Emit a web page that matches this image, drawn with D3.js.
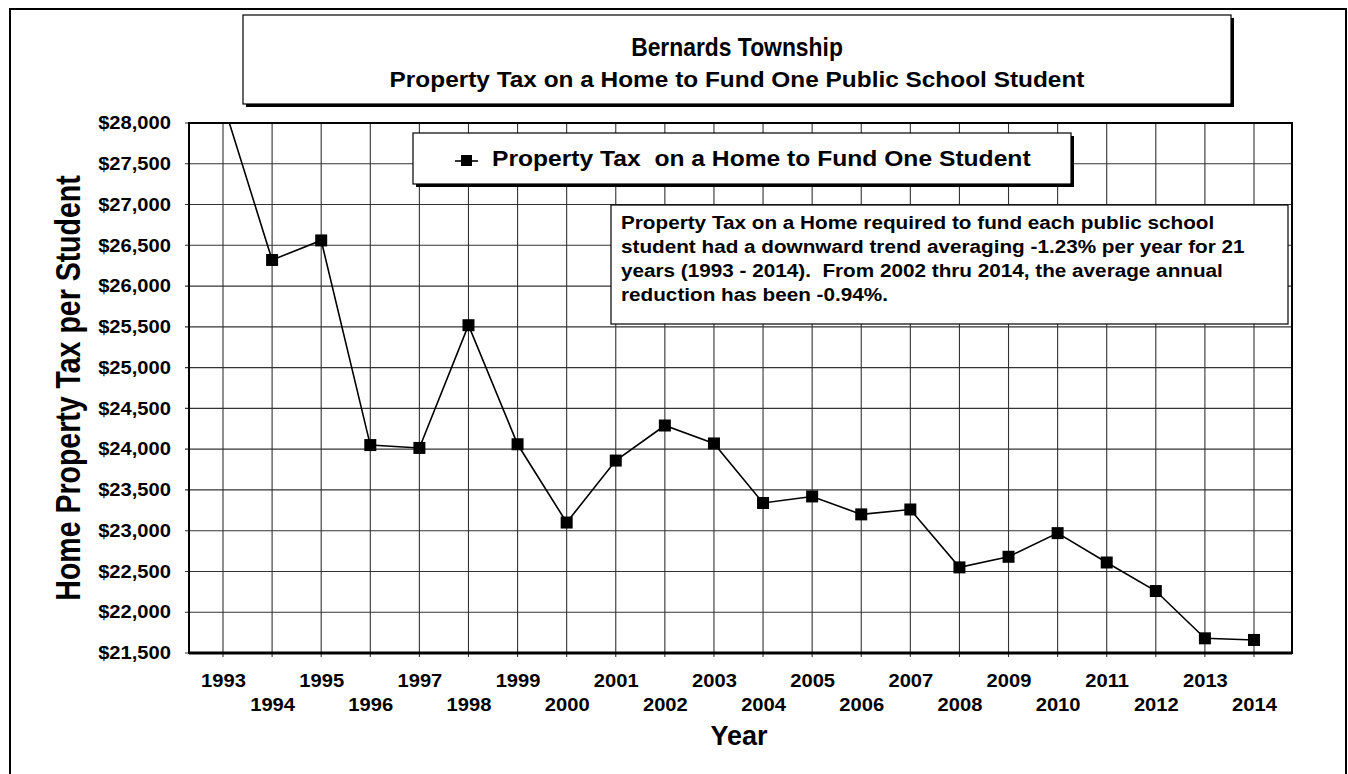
<!DOCTYPE html>
<html>
<head>
<meta charset="utf-8">
<script src="https://cdn.jsdelivr.net/npm/d3@7"></script>
<style>
  html, body { margin: 0; padding: 0; background: #fff; }
  svg { display: block; font-family: Arial, "Liberation Sans", sans-serif; }
</style>
</head>
<body>
<svg id="chart" width="1348" height="774"></svg>
<script>
// ---- data ----
const years = [1993, 1994, 1995, 1996, 1997, 1998, 1999, 2000, 2001, 2002, 2003,
               2004, 2005, 2006, 2007, 2008, 2009, 2010, 2011, 2012, 2013, 2014];
const taxPerStudent = [28250, 26320, 26560, 24050, 24015, 25520, 24060, 23100, 23860, 24290, 24070,
                       23340, 23420, 23200, 23260, 22550, 22680, 22970, 22610, 22260, 21680, 21660];
const yTicks = [21500, 22000, 22500, 23000, 23500, 24000, 24500, 25000, 25500, 26000, 26500, 27000, 27500, 28000];
const titleText = "Bernards Township";
const subtitleText = "Property Tax on a Home to Fund One Public School Student";
const legendText = "Property Tax\u00A0\u00A0on a Home to Fund One Student";
const noteLines = [
  "Property Tax on a Home required to fund each public school",
  "student had a downward trend averaging -1.23% per year for 21",
  "years (1993 - 2014).\u00A0\u00A0From 2002 thru 2014, the average annual",
  "reduction has been -0.94%."
];
const xTitle = "Year";
const yTitle = "Home Property Tax per Student";

// ---- layout ----
const SX = 1.12; // horizontal stretch of the scanned original
const plot = { left: 189, right: 1292, top: 123, bottom: 653 };
const svg = d3.select("#chart");

const x = d3.scaleLinear().domain([1993, 2014]).range([223, 1254]);
const y = d3.scaleLinear().domain([21500, 28000]).range([plot.bottom, plot.top]);
const fmt = v => "$" + d3.format(",")(v);

function stext(parent, px, py, str, size, anchor, weight, sx) {
  return parent.append("text")
    .attr("transform", `translate(${px},${py}) scale(${sx || SX},1)`)
    .attr("text-anchor", anchor)
    .attr("font-size", size)
    .attr("font-weight", weight)
    .attr("fill", "#000")
    .text(str);
}

// outer border
svg.append("rect").attr("x", 10).attr("y", 9).attr("width", 1336).attr("height", 800)
  .attr("fill", "none").attr("stroke", "#000").attr("stroke-width", 2);

function shadowBox(x0, y0, x1, y1, sw, shadow) {
  if (shadow) {
    svg.append("rect").attr("x", x0 + 3).attr("y", y0 + 3).attr("width", x1 - x0).attr("height", y1 - y0)
      .attr("fill", "#000");
  }
  svg.append("rect").attr("x", x0).attr("y", y0).attr("width", x1 - x0).attr("height", y1 - y0)
    .attr("fill", "#fff").attr("stroke", "#000").attr("stroke-width", sw);
}

// title box
shadowBox(243, 15, 1231, 104, 1.2, true);
stext(svg, 737, 56, titleText, 26, "middle", "bold", 0.88);
stext(svg, 737, 87, subtitleText, 21.8, "middle", "bold");

// gridlines
const grid = svg.append("g");
grid.selectAll("line.h").data(yTicks).join("line")
  .attr("x1", plot.left - 4).attr("x2", plot.right)
  .attr("y1", d => y(d)).attr("y2", d => y(d))
  .attr("stroke", "#333").attr("stroke-width", 1.1);
grid.selectAll("line.v").data(years).join("line")
  .attr("x1", d => x(d)).attr("x2", d => x(d))
  .attr("y1", plot.top).attr("y2", plot.bottom + 4)
  .attr("stroke", "#333").attr("stroke-width", 1.1);

// y axis labels
const yAxis = d3.axisLeft(y).tickValues(yTicks).tickFormat(fmt).tickSize(0).tickPadding(18);
const yg = svg.append("g").attr("transform", `translate(${plot.left},0)`).call(yAxis);
yg.select(".domain").remove();
yg.selectAll("text").attr("font-size", 18).attr("font-weight", "bold").attr("fill", "#000")
  .attr("font-family", "Arial, 'Liberation Sans', sans-serif")
  .attr("transform", `scale(${SX},1)`)
  .attr("x", -18 / SX);

// x axis labels (staggered)
const xAxis = d3.axisBottom(x).tickValues(years).tickFormat(d3.format("d")).tickSize(0);
const xg = svg.append("g").attr("transform", `translate(0,${plot.bottom})`).call(xAxis);
xg.select(".domain").remove();
xg.selectAll("text")
  .attr("font-size", 18).attr("font-weight", "bold").attr("fill", "#000")
  .attr("font-family", "Arial, 'Liberation Sans', sans-serif")
  .attr("dy", null)
  .attr("y", (d, i) => (i % 2 === 0 ? 34 : 58))
  .attr("transform", `scale(${SX},1)`);

// plot frame
svg.append("rect").attr("x", plot.left).attr("y", plot.top)
  .attr("width", plot.right - plot.left).attr("height", plot.bottom - plot.top)
  .attr("fill", "none").attr("stroke", "#000").attr("stroke-width", 2);
svg.append("line").attr("x1", plot.left).attr("x2", plot.right)
  .attr("y1", plot.bottom).attr("y2", plot.bottom).attr("stroke", "#000").attr("stroke-width", 3);

// clip + series
svg.append("clipPath").attr("id", "clip").append("rect")
  .attr("x", plot.left).attr("y", plot.top)
  .attr("width", plot.right - plot.left).attr("height", plot.bottom - plot.top);
const series = years.map((yr, i) => ({ yr, v: taxPerStudent[i] }));
const g = svg.append("g").attr("clip-path", "url(#clip)");
g.append("path").datum(series)
  .attr("d", d3.line().x(d => x(d.yr)).y(d => y(d.v)))
  .attr("fill", "none").attr("stroke", "#000").attr("stroke-width", 1.6);
const ms = 12;
g.selectAll("rect.m").data(series).join("rect")
  .attr("x", d => x(d.yr) - ms / 2).attr("y", d => y(d.v) - ms / 2)
  .attr("width", ms).attr("height", ms).attr("fill", "#000");

// legend box
shadowBox(413, 133, 1071, 184, 1.2, true);
svg.append("line").attr("x1", 455).attr("x2", 478).attr("y1", 161).attr("y2", 161)
  .attr("stroke", "#000").attr("stroke-width", 1.6);
svg.append("rect").attr("x", 461).attr("y", 155).attr("width", 11).attr("height", 11).attr("fill", "#000");
stext(svg, 492, 166, legendText, 22, "start", "bold");

// annotation box
svg.append("rect").attr("x", 611).attr("y", 205).attr("width", 677).attr("height", 119)
  .attr("fill", "#fff").attr("stroke", "#000").attr("stroke-width", 1.2);
noteLines.forEach((ln, i) => stext(svg, 621, 229 + i * 24, ln, 18.5, "start", "bold"));

// axis titles
stext(svg, 739, 745, xTitle, 27, "middle", "bold", 1.0);
svg.append("text")
  .attr("transform", `translate(80,388) scale(1.2,1) rotate(-90)`)
  .attr("text-anchor", "middle").attr("font-size", 28.5).attr("font-weight", "bold")
  .attr("fill", "#000").text(yTitle);
</script>
</body>
</html>
